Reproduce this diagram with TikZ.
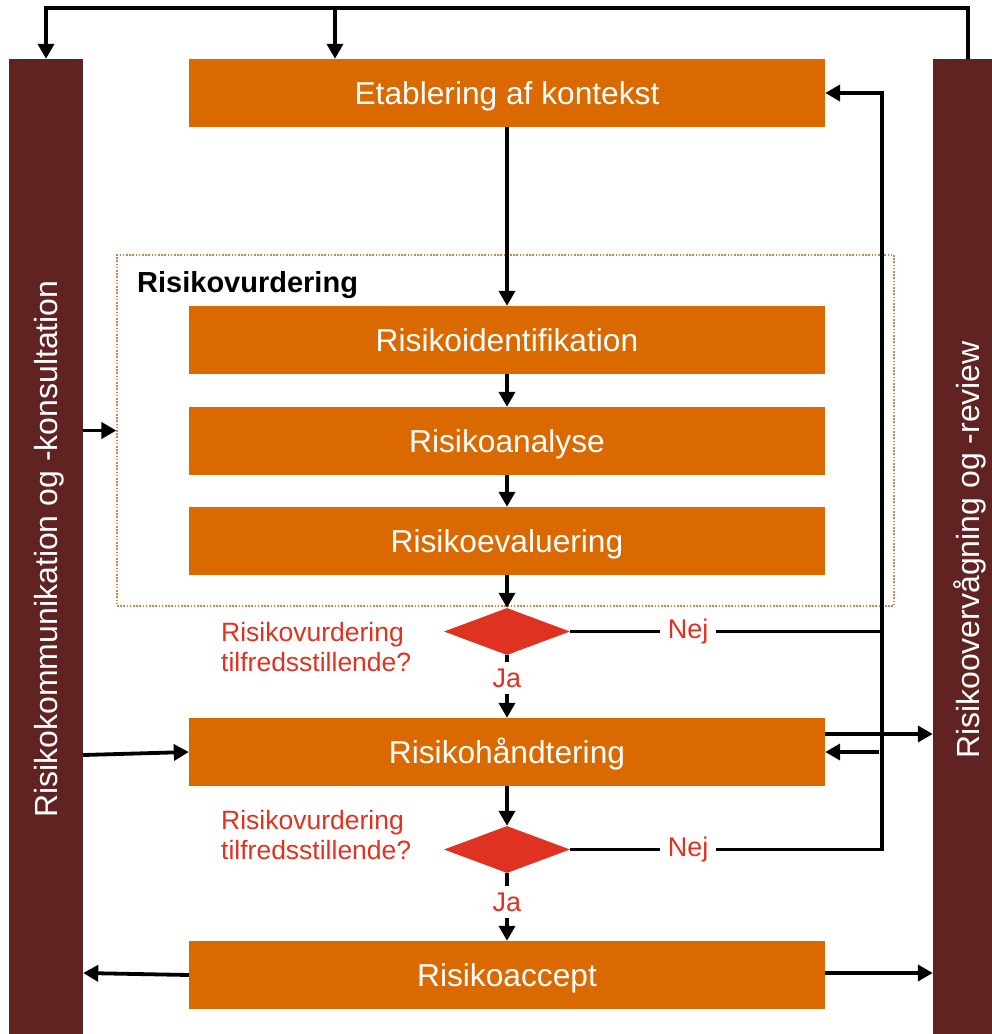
\documentclass[tikz,border=0pt]{standalone}
\usepackage{fontspec}
\setmainfont{Liberation Sans}
\usetikzlibrary{arrows.meta,shapes.geometric,calc}

\definecolor{boxorange}{RGB}{218,105,0}
\definecolor{barred}{RGB}{97,34,34}
\definecolor{decred}{RGB}{224,50,32}
\definecolor{dotorange}{RGB}{214,130,70}

\begin{document}
\begin{tikzpicture}[x=1pt,y=-1pt,
  stepbox/.style={fill=boxorange, text=white, minimum width=636pt, minimum height=68pt,
    inner sep=0pt, text height=23pt, text depth=-3pt,
    font=\fontsize{31.7}{36}\selectfont},
  sidebar/.style={fill=barred, minimum width=74pt, minimum height=975pt, inner sep=0pt},
  sidetext/.style={text=white, rotate=90, anchor=base, inner sep=0pt,
    font=\fontsize{32}{36}\selectfont},
  decision/.style={diamond, fill=decred, minimum width=126pt, minimum height=47pt, inner sep=0pt},
  question/.style={text=decred, align=left, anchor=north west, inner sep=0pt,
    font=\fontsize{26.5}{30}\selectfont},
  answer/.style={fill=white, text=decred, inner xsep=8pt, inner ysep=7pt,
    font=\fontsize{27}{30}\selectfont},
  groupbox/.style={draw=dotorange, line width=1.2pt, dash pattern=on 1.6pt off 1.6pt,
    minimum width=777pt, minimum height=351pt, inner sep=0pt},
  flow/.style={line width=3.8pt, -{Triangle[length=15pt,width=16pt]}},
  plain/.style={line width=3.8pt}
]
\useasboundingbox (0,0) rectangle (992,1034);

% side bars
\node[sidebar] (lbar) at (46,546.5) {};
\node[sidebar] (rbar) at (970,546.5) {};
\node[sidetext] (ltext) at (57,549) {Risikokommunikation og -konsultation};
\node[sidetext] (rtext) at (979,550) {Risikoovervågning og -review};

% risk assessment group
\node[groupbox] (rv) at (505.5,430.5) {};
\node[anchor=base west, inner sep=0pt, font=\fontsize{29}{32}\selectfont\bfseries]
  (rvlabel) at (137,292) {Risikovurdering};

% process steps
\node[stepbox] (ctx) at (507,93)  {Etablering af kontekst};
\node[stepbox] (rid) at (507,340) {Risikoidentifikation};
\node[stepbox] (ran) at (507,441) {Risikoanalyse};
\node[stepbox] (rev) at (507,541) {Risikoevaluering};
\node[stepbox] (rha) at (507,752) {Risikohåndtering};
\node[stepbox] (rac) at (507,975) {Risikoaccept};

% decisions
\node[decision] (d1) at (507,631.5) {};
\node[decision] (d2) at (507,849.5) {};
\node[question] (q1) at (221,622) {Risikovurdering\\tilfredsstillende?};
\node[question] (q2) at (221,810) {Risikovurdering\\tilfredsstillende?};

% helper points
\coordinate (tl) at (46,8);
\coordinate (tm) at (335,8);
\coordinate (tr) at (968,8);
\coordinate (rl) at (882,849.5);

% top feedback line
\draw[flow] (rbar.north -| tr) -- (tr) -- (tl) -- (lbar.north);
\draw[flow] (tm) -- (tm |- ctx.north);

% main flow
\draw[flow] (ctx.south) -- (rid.north);
\draw[flow] (rid.south) -- (ran.north);
\draw[flow] (ran.south) -- (rev.north);
\draw[flow] (rev.south) -- (d1.north);
\draw[flow] (d1.south) -- (rha.north) node[answer, pos=0.365] {Ja};
\draw[flow] (rha.south) -- (d2.north);
\draw[flow] (d2.south) -- (rac.north) node[answer, pos=0.426] {Ja};

% "Nej" loops back to the context
\draw[plain] (d1.east) -- (d1.east -| rl) node[answer, pos=0.378] {Nej};
\draw[flow] (d2.east) -- (rl) node[answer, pos=0.378] {Nej} -- (rl |- ctx.east) -- (ctx.east);

% exchanges with the side bars
\draw[flow] (lbar.east |- rv.west) -- (rv.west);
\draw[flow] ([yshift=-3pt]lbar.east |- rha.west) -- (rha.west);
\draw[flow] ([yshift=18pt]rha.east) -- ([yshift=18pt]rha.east -| rbar.west);
\draw[flow] ([xshift=-3pt]rl |- rha.east) -- (rha.east);
\draw[flow] (rac.west) -- ([yshift=2pt]lbar.east |- rac.west);
\draw[flow] ([yshift=2pt]rac.east) -- ([yshift=2pt]rbar.west |- rac.east);
\end{tikzpicture}
\end{document}
